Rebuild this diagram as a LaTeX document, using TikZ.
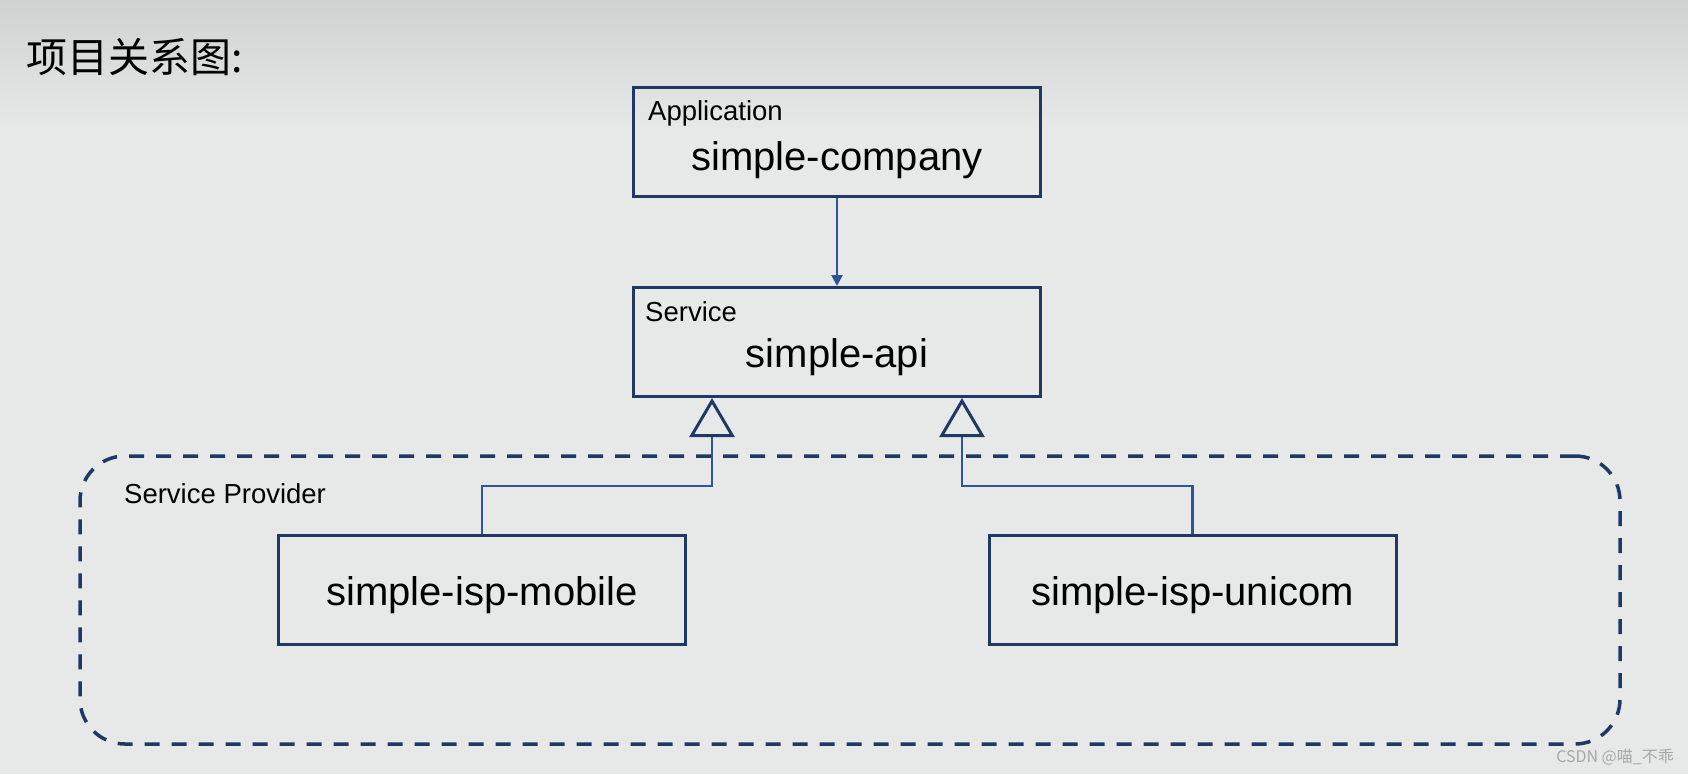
\documentclass[tikz,border=0pt]{standalone}
\usepackage{fontspec}
\setmainfont{Liberation Sans}
\newfontfamily\cjk{Noto Sans CJK SC}
\usetikzlibrary{arrows.meta}
\definecolor{navy}{HTML}{1F3864}
\definecolor{linkblue}{HTML}{2F5597}
\definecolor{bgc}{HTML}{E7E9E9}
\definecolor{bgtop}{HTML}{D0D2D2}
\definecolor{wmgray}{HTML}{A6A6A6}
\begin{document}
\begin{tikzpicture}[x=1pt,y=-1pt,
  box/.style={draw=navy, line width=3pt, minimum width=407pt, minimum height=109pt, inner sep=0pt},
  bigtxt/.style={font=\fontsize{40}{48}\selectfont, inner sep=0pt, anchor=base},
  smalltxt/.style={font=\fontsize{27.5}{33}\selectfont, inner sep=0pt, anchor=base west},
  link/.style={draw=linkblue, line width=2.5pt},
  inherit/.style={link, -{Triangle[width=45pt, length=39pt, line width=3pt, color=navy, fill=bgc]}},
  container/.style={draw=navy, line width=3.5pt, dash pattern=on 15pt off 12pt, rounded corners=45pt, minimum width=1540pt, minimum height=288pt, inner sep=0pt}
]
\useasboundingbox (0,0) rectangle (1688,774);
\fill[bgc] (0,0) rectangle (1688,774);
\shade[top color=bgtop, bottom color=bgc] (0,0) rectangle (1688,130);

\node[font=\cjk\fontsize{41}{46}\selectfont, anchor=base west, inner sep=0pt] (title) at (26,72) {项目关系图:};

\node[container] (provider) at (850,600) {};
\node[smalltxt] (providerlbl) at (124,503) {Service Provider};

\node[box] (company) at (837,142) {};
\node[smalltxt] (applbl) at (648,120) {Application};
\node[bigtxt] (companytxt) at (837,170) {simple-company};

\node[box] (api) at (837,342) {};
\node[smalltxt] (svclbl) at (645,321) {Service};
\node[bigtxt] (apitxt) at (837,367) {simple-api};

\node[box] (mobile) at (482,590) {};
\node[bigtxt] (mobiletxt) at (482,605) {simple-isp-mobile};

\node[box] (unicom) at (1192.5,590) {};
\node[bigtxt] (unicomtxt) at (1192.5,605) {simple-isp-unicom};

\draw[link, -{Triangle[width=11pt, length=11pt]}] (company.south) -- (api.north);

\coordinate (jl) at ([xshift=-125pt]api.south);
\coordinate (jr) at ([xshift=125pt]api.south);
\draw[inherit] (mobile.north) -- ++(0,-48) -| (jl);
\draw[inherit] (unicom.north) -- ++(0,-48) -| (jr);

\node[font=\cjk\fontsize{16}{19}\selectfont, text=wmgray, anchor=east, inner sep=0pt] (wm) at (1674,757) {CSDN @喵\_不乖};
\end{tikzpicture}
\end{document}
